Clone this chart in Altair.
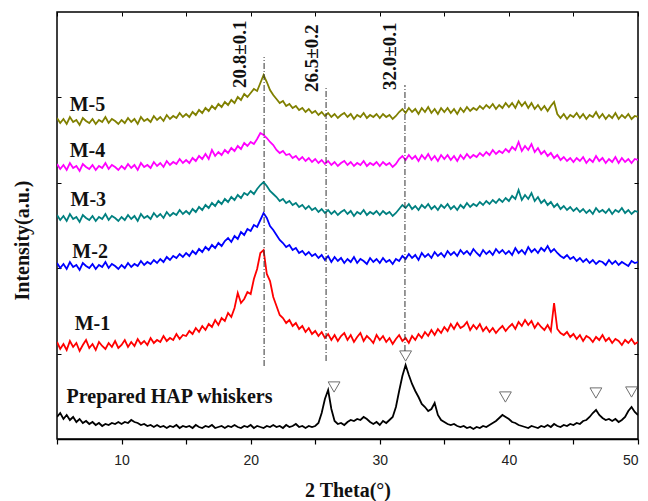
import altair as alt
import pandas as pd

# 2-theta sampling grid (degrees), 0.25 deg step from 5 to 50
TWO_THETA = [round(5 + 0.25 * i, 2) for i in range(181)]

# Intensities (a.u., stacked as plotted), one row per 5 degrees
HAP = [
    22, 26, 20, 24, 19, 22, 17, 20, 16, 18, 15, 17, 14, 16, 13, 15, 14, 16, 15, 17,
    15, 17, 16, 19, 17, 16, 14, 15, 13, 14, 12, 14, 12, 13, 11, 13, 12, 14, 11, 13,
    12, 13, 11, 14, 12, 11, 13, 12, 14, 11, 12, 13, 11, 13, 12, 14, 12, 11, 13, 12,
    14, 11, 13, 12, 11, 13, 12, 14, 12, 13, 11, 14, 12, 13, 15, 12, 13, 11, 13, 12,
    13, 16, 26, 40, 49, 30, 18, 15, 16, 14, 17, 19, 18, 20, 19, 22, 20, 17, 15, 17,
    14, 18, 16, 19, 22, 32, 48, 63, 74, 64, 55, 48, 42, 35, 32, 28, 30, 36, 24, 19,
    17, 15, 14, 15, 13, 12, 13, 11, 12, 10, 12, 11, 13, 12, 14, 16, 18, 21, 24, 22,
    20, 17, 16, 14, 13, 12, 11, 13, 12, 11, 13, 12, 14, 12, 15, 13, 12, 14, 13, 15,
    14, 16, 15, 18, 19, 22, 26, 29, 24, 21, 19, 20, 18, 20, 17, 19, 22, 28, 32, 27,
    24,
]
M1 = [
    97, 90, 95, 89, 98, 92, 96, 88, 94, 99, 91, 95, 89, 97, 93, 90, 96, 92, 98, 91,
    94, 99, 92, 97, 93, 100, 95, 98, 94, 101, 96, 99, 97, 103, 98, 101, 99, 105, 100, 104,
    103, 108, 105, 111, 107, 113, 109, 115, 112, 119, 114, 121, 118, 126, 122, 131, 146, 136, 140, 147,
    145, 160, 170, 186, 189, 165, 158, 142, 133, 124, 121, 116, 119, 113, 116, 110, 113, 107, 111, 105,
    108, 103, 107, 101, 105, 99, 104, 98, 103, 106, 99, 104, 97, 102, 106, 98, 103, 100, 96, 104,
    99, 103, 97, 101, 95, 100, 104, 98, 101, 96, 103, 99, 105, 101, 107, 103, 109, 104, 110, 106,
    112, 108, 115, 110, 116, 111, 113, 117, 109, 114, 110, 115, 108, 112, 107, 111, 106, 110, 113, 108,
    112, 115, 110, 117, 113, 119, 114, 118, 111, 116, 112, 109, 114, 108, 136, 110, 106, 104, 107, 102,
    105, 100, 104, 98, 103, 101, 97, 102, 99, 104, 98, 101, 96, 100, 98, 94, 99, 96, 100, 95,
    97,
]
M2 = [
    176, 171, 175, 170, 177, 172, 174, 169, 176, 173, 171, 175, 170, 174, 172, 177, 171, 175, 173, 170,
    174, 171, 176, 172, 175, 173, 178, 174, 177, 175, 179, 176, 180, 177, 182, 179, 183, 181, 185, 182,
    186, 183, 188, 185, 190, 187, 192, 189, 194, 191, 196, 193, 198, 201, 197, 203, 200, 207, 204, 210,
    208, 214, 212, 219, 226, 221, 213, 209, 204, 199, 196, 192, 194, 189, 191, 186, 188, 184, 187, 183,
    185, 181, 184, 179, 183, 177, 182, 178, 181, 176, 180, 177, 182, 176, 180, 178, 175, 181, 177, 180,
    176, 181, 177, 179, 175, 180, 178, 183, 180, 185, 181, 184, 179, 186, 182, 185, 181, 187, 183, 186,
    182, 188, 184, 187, 183, 189, 185, 188, 184, 190, 186, 183, 189, 185, 188, 184, 190, 186, 189, 185,
    188, 184, 191, 186, 189, 185, 192, 187, 190, 186, 191, 188, 193, 187, 190, 186, 183, 181, 184, 180,
    182, 178, 181, 177, 180, 176, 179, 175, 178, 177, 174, 179, 175, 178, 174, 177, 175, 173, 178, 176,
    177,
]
M3 = [
    224, 219, 223, 218, 225, 220, 222, 217, 224, 221, 219, 223, 218, 222, 220, 225, 219, 223, 221, 218,
    222, 219, 224, 220, 223, 218, 225, 221, 223, 220, 226, 222, 225, 221, 227, 223, 226, 224, 229, 225,
    228, 225, 230, 227, 232, 229, 234, 231, 236, 233, 238, 235, 240, 237, 242, 239, 244, 241, 246, 244,
    248, 245, 250, 254, 257, 253, 248, 245, 242, 238, 240, 236, 238, 234, 236, 232, 234, 230, 233, 229,
    231, 227, 230, 226, 229, 225, 228, 224, 227, 229, 225, 228, 223, 227, 225, 229, 224, 227, 225, 228,
    224, 228, 225, 227, 223, 226, 230, 234, 231, 235, 230, 233, 229, 234, 231, 235, 230, 233, 229, 234,
    231, 235, 230, 233, 229, 234, 231, 236, 232, 235, 233, 237, 234, 238, 235, 239, 236, 240, 237, 241,
    238, 243, 240, 249, 239, 244, 240, 246, 238, 242, 236, 239, 234, 237, 232, 235, 230, 233, 229, 232,
    228, 231, 227, 230, 226, 229, 225, 231, 227, 229, 226, 230, 225, 229, 227, 231, 226, 229, 225, 228,
    227,
]
M4 = [
    275, 270, 274, 269, 276, 271, 273, 268, 275, 272, 270, 274, 269, 273, 271, 276, 270, 274, 272, 269,
    273, 270, 275, 271, 274, 269, 276, 272, 274, 271, 277, 273, 276, 272, 278, 274, 277, 275, 280, 276,
    279, 276, 281, 278, 283, 280, 285, 280, 289, 283, 287, 284, 289, 286, 291, 288, 293, 290, 296, 293,
    297, 295, 300, 306, 304, 301, 297, 294, 289, 286, 288, 284, 285, 281, 283, 279, 282, 278, 281, 277,
    280, 276, 279, 275, 278, 274, 277, 273, 276, 278, 274, 277, 273, 276, 274, 278, 273, 276, 274, 277,
    273, 277, 274, 276, 272, 275, 280, 283, 279, 284, 280, 283, 278, 284, 280, 285, 279, 283, 278, 284,
    280, 284, 279, 283, 278, 284, 280, 285, 281, 284, 282, 286, 283, 287, 284, 289, 285, 288, 286, 290,
    287, 292, 289, 297, 288, 293, 289, 295, 287, 291, 285, 288, 283, 286, 281, 284, 279, 282, 278, 281,
    277, 281, 278, 282, 276, 280, 277, 283, 278, 281, 276, 280, 277, 282, 276, 281, 277, 280, 276, 280,
    279,
]
M5 = [
    321, 316, 320, 315, 322, 317, 319, 314, 321, 318, 316, 320, 315, 319, 317, 322, 316, 320, 318, 315,
    319, 316, 321, 317, 320, 315, 322, 318, 320, 317, 323, 319, 322, 318, 324, 320, 323, 321, 326, 322,
    325, 322, 327, 324, 329, 326, 331, 328, 333, 330, 335, 332, 337, 334, 339, 336, 342, 339, 345, 342,
    346, 350, 348, 356, 364, 357, 349, 344, 340, 336, 338, 333, 335, 331, 333, 329, 331, 327, 330, 326,
    328, 324, 327, 323, 326, 322, 325, 321, 324, 326, 322, 325, 320, 324, 322, 326, 321, 324, 322, 325,
    321, 325, 322, 324, 320, 323, 327, 330, 326, 331, 327, 330, 325, 331, 327, 332, 326, 330, 325, 331,
    327, 331, 326, 330, 325, 331, 327, 332, 328, 331, 329, 333, 330, 334, 331, 335, 330, 334, 331, 336,
    332, 336, 331, 338, 333, 337, 331, 336, 330, 334, 329, 333, 328, 333, 337, 325, 321, 325, 320, 324,
    322, 326, 321, 325, 320, 324, 322, 327, 321, 325, 320, 324, 321, 326, 320, 324, 321, 325, 320, 323,
    322,
]

SAMPLES = ["Prepared HAP whiskers", "M-1", "M-2", "M-3", "M-4", "M-5"]
COLORS = ["#000000", "#ff0000", "#0000ff", "#008080", "#ff00ff", "#808000"]
SERIES = [HAP, M1, M2, M3, M4, M5]

# Sample labels
LABEL_TEXT = ["M-5", "M-4", "M-3", "M-2", "M-1", "Prepared HAP whiskers"]
LABEL_X = [5.98, 5.98, 6.05, 6.19, 6.37, 5.74]
LABEL_Y = [328, 282, 233, 181, 109, 36]

# Reference peak lines
PEAK_POS = [21.04, 25.84, 31.95]
PEAK_LOW = [73, 78, 88]
PEAK_HIGH = [382, 351, 354]
PEAK_TEXT = ["20.8\u00b10.1", "26.5\u00b10.2", "32.0\u00b10.1"]
PEAK_TEXT_X = [19.14, 24.78, 30.82]
PEAK_TEXT_Y = [351, 347, 349]

# HAP reflection markers
MARK_X = [26.46, 32.0, 39.73, 46.74, 49.5]
MARK_Y = [52, 83, 42, 46, 47]

X_TICKS = [5, 10, 15, 20, 25, 30, 35, 40, 45, 50]
Y_TICKS = [85.4, 170.8, 256.2, 341.6]

for s in SERIES:
    assert len(s) == len(TWO_THETA), len(s)

rows = []
for name, vals in zip(SAMPLES, SERIES):
    for xv, yv in zip(TWO_THETA, vals):
        rows.append({"sample": name, "two_theta": xv, "intensity": yv})
df = pd.DataFrame(rows)

labels_df = pd.DataFrame({"text": LABEL_TEXT, "x": LABEL_X, "y": LABEL_Y})
peaks_df = pd.DataFrame({"x": PEAK_POS, "y": PEAK_LOW, "y2": PEAK_HIGH})
peak_text_df = pd.DataFrame({"text": PEAK_TEXT, "x": PEAK_TEXT_X, "y": PEAK_TEXT_Y})
marks_df = pd.DataFrame({"x": MARK_X, "y": MARK_Y})

xs = alt.Scale(domain=[5, 50], nice=False, zero=False)
ys = alt.Scale(domain=[0, 427], nice=False, zero=False)

lines = alt.Chart(df).mark_line(strokeWidth=1.8, strokeJoin="miter", clip=True).encode(
    x=alt.X("two_theta:Q", scale=xs, axis=alt.Axis(
        orient="bottom", values=X_TICKS, tickSize=5, tickWidth=1.2,
        labelExpr="datum.value % 10 == 0 ? datum.label : ''",
        labelPadding=9, title="2 Theta(\u00b0)", titlePadding=13,
        domainWidth=1.5)),
    y=alt.Y("intensity:Q", scale=ys, axis=alt.Axis(
        orient="left", values=Y_TICKS, tickSize=4, offset=-4, domain=False,
        labels=False, title="Intensity(a.u.)", titleX=-39, titleY=228,
        titleAngle=270, titleBaseline="middle", titleAlign="center")),
    color=alt.Color("sample:N", scale=alt.Scale(domain=SAMPLES, range=COLORS), legend=None),
    order=alt.Order("two_theta:Q"),
)

rules = alt.Chart(peaks_df).mark_rule(color="#333333", strokeWidth=1, strokeDash=[6, 2, 1, 2]).encode(
    x=alt.X("x:Q", scale=xs, axis=alt.Axis(
        orient="top", values=X_TICKS, tickSize=4, offset=-4, domain=False,
        labels=False), title=None),
    y=alt.Y("y:Q", scale=ys, axis=alt.Axis(
        orient="right", values=Y_TICKS, tickSize=4, offset=-4, domain=False,
        labels=False), title=None),
    y2="y2:Q",
)

tri = alt.Chart(marks_df).mark_point(shape="triangle-down", filled=False, size=140,
                                       color="#333333", strokeWidth=1).encode(
    x=alt.X("x:Q", scale=xs, axis=None),
    y=alt.Y("y:Q", scale=ys, axis=None),
)

sample_text = alt.Chart(labels_df).mark_text(
    align="left", baseline="alphabetic", font="Liberation Serif", fontWeight="bold",
    fontSize=20, color="#111111").encode(
    x=alt.X("x:Q", scale=xs, axis=None),
    y=alt.Y("y:Q", scale=ys, axis=None),
    text="text:N",
)

peak_text = alt.Chart(peak_text_df).mark_text(
    align="left", baseline="middle", angle=270, font="Liberation Serif", fontWeight="bold",
    fontSize=19, color="#111111").encode(
    x=alt.X("x:Q", scale=xs, axis=None),
    y=alt.Y("y:Q", scale=ys, axis=None),
    text="text:N",
)

chart = alt.layer(lines, rules, tri, sample_text, peak_text).resolve_axis(
    x="independent", y="independent"
).properties(
    width=581, height=427,
    autosize=alt.AutoSizeParams(type="none"),
    padding={"left": 57, "top": 12, "right": 10, "bottom": 62},
    background="white",
).configure_view(
    stroke="black", strokeWidth=1.5
).configure_axis(
    grid=False, tickColor="black", domainColor="black",
    labelFont="Liberation Sans", labelFontSize=14, labelColor="#222222",
    titleFont="Liberation Serif", titleFontWeight="bold", titleFontSize=20,
    titleColor="#111111",
)

chart.save("out.html", embed_options={"renderer": "svg", "actions": False})
